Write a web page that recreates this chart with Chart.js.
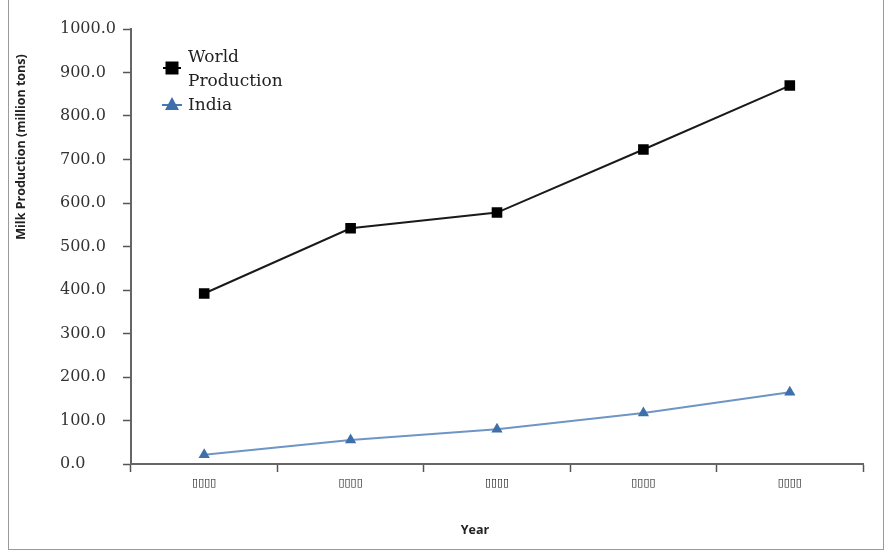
<!DOCTYPE html>
<html>
<head>
<meta charset="utf-8">
<script src="https://cdn.jsdelivr.net/npm/chart.js@4/dist/chart.umd.min.js"></script>
<style>
html,body{margin:0;padding:0;background:#fff;}
#wrap{position:absolute;left:0;top:0;width:887px;height:552px;}
#frame{position:absolute;left:8px;top:0px;width:876px;height:550px;border:1px solid #9a9a9a;border-top:none;box-sizing:border-box;pointer-events:none;}
</style>
</head>
<body>
<div id="wrap"><canvas id="c" width="887" height="552"></canvas><div id="frame"></div></div>
<script>
const categories = ["\u25AF\u25AF\u25AF\u25AF","\u25AF\u25AF\u25AF\u25AF","\u25AF\u25AF\u25AF\u25AF","\u25AF\u25AF\u25AF\u25AF","\u25AF\u25AF\u25AF\u25AF"];
const worldProduction = [392, 542, 578, 723, 870];
const india = [21, 55, 80, 117, 165];
const seriesNames = [["World","Production"],["India"]];
const yTitle = "Milk Production (million tons)";
const xTitle = "Year";

const customText = {
  id:'customText',
  afterDraw(chart){
    const ctx = chart.ctx;
    ctx.save();
    ctx.fillStyle = '#222';
    ctx.font = 'bold 12.5px "Open Sans", sans-serif';
    ctx.translate(21, 147);
    ctx.rotate(-Math.PI/2);
    ctx.textAlign='center'; ctx.textBaseline='middle';
    ctx.fillText(yTitle, 0, 0);
    ctx.restore();
    ctx.save();
    ctx.fillStyle='#222';
    ctx.font = 'bold 12.5px "Open Sans", sans-serif';
    ctx.textAlign='center'; ctx.textBaseline='middle';
    ctx.fillText(xTitle, 475, 530);
    const mx = 172;
    ctx.strokeStyle='#000'; ctx.lineWidth=2;
    ctx.beginPath(); ctx.moveTo(163,68); ctx.lineTo(181,68); ctx.stroke();
    ctx.fillStyle='#000';
    ctx.fillRect(mx-6.5, 68-6.5, 13, 13);
    ctx.strokeStyle='#4a78b0';
    ctx.beginPath(); ctx.moveTo(162,105); ctx.lineTo(182,105); ctx.stroke();
    ctx.fillStyle='#3f6fab';
    ctx.beginPath(); ctx.moveTo(mx,97); ctx.lineTo(mx+7,110); ctx.lineTo(mx-7,110); ctx.closePath(); ctx.fill();
    ctx.fillStyle='#222';
    ctx.font = '17px "DejaVu Serif", serif';
    ctx.textAlign='left'; ctx.textBaseline='middle';
    ctx.fillText(seriesNames[0][0], 188, 58);
    ctx.fillText(seriesNames[0][1], 188, 82);
    ctx.fillText(seriesNames[1][0], 188, 106);
    ctx.restore();
  }
};

new Chart(document.getElementById('c'), {
  type:'line',
  data:{
    labels: categories,
    datasets:[
      {label: seriesNames[0].join(' '), data: worldProduction, borderColor:'#1a1a1a', backgroundColor:'#000', borderWidth:2,
       pointStyle:'rect', pointRadius:7.5, pointBackgroundColor:'#000', pointBorderColor:'#000', pointBorderWidth:0, tension:0},
      {label: seriesNames[1][0], data: india, borderColor:'#6f95c4', backgroundColor:'#3f6fab', borderWidth:2,
       pointStyle:'triangle', pointRadius:6.5, pointBackgroundColor:'#3f6fab', pointBorderColor:'#3f6fab', pointBorderWidth:0, tension:0}
    ]
  },
  options:{
    responsive:false, animation:false, devicePixelRatio:1,
    layout:{padding:{left:60, right:24, top:29, bottom:0}},
    plugins:{legend:{display:false}, tooltip:{enabled:false}},
    scales:{
      x:{
        offset:true,
        grid:{display:true, offset:true, drawOnChartArea:false, drawTicks:true, tickLength:8, color:'#555', tickWidth:1.5},
        border:{display:true, color:'#666', width:2},
        ticks:{color:'#111', font:{family:'"DejaVu Sans", sans-serif', size:11}, padding:5, maxRotation:0},
        afterFit(s){ s.height = 88; }
      },
      y:{
        min:0, max:1000,
        grid:{display:true, drawOnChartArea:false, drawTicks:true, tickLength:8, color:'#555', tickWidth:1.5},
        border:{display:true, color:'#666', width:2},
        ticks:{stepSize:100, color:'#333', crossAlign:'far', padding:2,
          font:{family:'"DejaVu Serif", serif', size:16},
          callback:(v)=>Number(v).toFixed(1)},
        afterFit(s){ s.width = 71; }
      }
    }
  },
  plugins:[customText]
});
</script>
</body>
</html>
